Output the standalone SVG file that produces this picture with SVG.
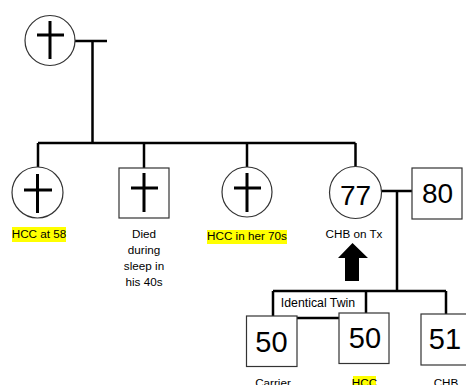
<svg xmlns="http://www.w3.org/2000/svg" width="466" height="385" viewBox="0 0 466 385">
<style>
.shape{fill:#fff;stroke:#333;stroke-width:1.2}
.cross{stroke:#000;stroke-width:3;fill:none}
.line{stroke:#000;stroke-width:2.5;fill:none}
.lbl{font-family:"Liberation Sans",Arial,sans-serif;font-size:11.7px;fill:#000;text-anchor:middle}
.num{font-family:"Liberation Sans",Arial,sans-serif;font-size:28px;fill:#000;text-anchor:middle}
.hl{fill:#FFFF00}
</style>
<rect width="466" height="385" fill="#fff"/>
<g id="connectors">
<path class="line" d="M75,41 H107 M92.5,41 V143 M38,143 H355.5 M38,143 V167 M144,143 V168 M247,143 V167 M355.5,143 V167"/>
<path class="line" d="M381,191 H412 M397,191 V291 M273,291 H446 M273,291 V316 M366,291 V313 M446,291 V314 M297,318 H339"/>
</g>
<g id="n1">
<circle class="shape" cx="50" cy="40.5" r="25"/>
<path class="cross" d="M50,21 V59 M37,35 H64"/>
</g>
<g id="n2">
<circle class="shape" cx="37.5" cy="192.5" r="25.5"/>
<path class="cross" d="M37.5,174 V213 M24,190 H52"/>
<rect class="hl" x="12" y="227" width="54" height="15"/>
<text class="lbl" x="39" y="238">HCC at 58</text>
</g>
<g id="n3">
<rect class="shape" x="119" y="168" width="50" height="50"/>
<path class="cross" d="M144,173 V212 M131,188 H158"/>
<text class="lbl" x="144" y="238">Died</text>
<text class="lbl" x="144" y="254">during</text>
<text class="lbl" x="144" y="270">sleep in</text>
<text class="lbl" x="144" y="286">his 40s</text>
</g>
<g id="n4">
<circle class="shape" cx="247" cy="192" r="25"/>
<path class="cross" d="M247,173 V212 M234,188 H261"/>
<rect class="hl" x="207" y="230" width="80" height="14"/>
<text class="lbl" x="247" y="240">HCC in her 70s</text>
</g>
<g id="n5">
<circle class="shape" cx="355.5" cy="192.5" r="26"/>
<text class="num" x="355.5" y="205">77</text>
<text class="lbl" x="354" y="238">CHB on Tx</text>
</g>
<g id="n6">
<rect class="shape" x="412" y="168" width="50" height="51"/>
<text class="num" x="437.5" y="203">80</text>
</g>
<g id="proband-arrow">
<polygon points="352.5,243 368,258 359,258 359,281 345,281 345,258 338,258" fill="#000"/>
</g>
<g id="twin-label">
<text class="lbl" x="318" y="307" style="font-size:12.3px">Identical Twin</text>
</g>
<g id="n7">
<rect class="shape" x="246.5" y="316" width="50.5" height="50.5"/>
<text class="num" x="271.5" y="352" style="font-size:29px">50</text>
<text class="lbl" x="273" y="387">Carrier</text>
</g>
<g id="n8">
<rect class="shape" x="339" y="313" width="50" height="50.5"/>
<rect class="hl" x="353" y="376" width="23" height="9"/>
<text class="num" x="365" y="348" style="font-size:29px">50</text>
<text class="lbl" x="364.5" y="387">HCC</text>
</g>
<g id="n9">
<rect class="shape" x="421" y="314" width="50" height="51"/>
<text class="num" x="445" y="349" style="font-size:29px">51</text>
<text class="lbl" x="446" y="387">CHB</text>
</g>
</svg>
